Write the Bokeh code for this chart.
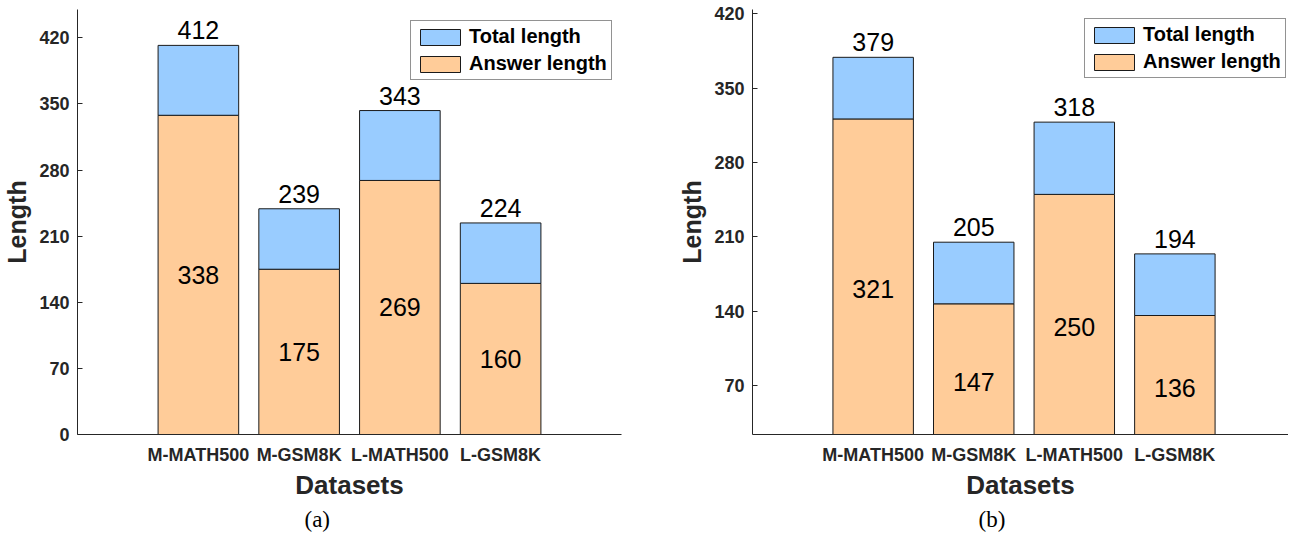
from bokeh.plotting import figure
from bokeh.layouts import row
from bokeh.models import ColumnDataSource, FixedTicker, Legend, LegendItem, Range1d, Title
from bokeh.core.properties import value
from bokeh.embed import file_html
from bokeh.resources import INLINE

# ---------------- data ----------------
datasets = ["M-MATH500", "M-GSM8K", "L-MATH500", "L-GSM8K"]
total_a = [412, 239, 343, 224]
answer_a = [338, 175, 269, 160]
total_b = [379, 205, 318, 194]
answer_b = [321, 147, 250, 136]
yticks_a = [0, 70, 140, 210, 280, 350, 420]
yticks_b = [70, 140, 210, 280, 350, 420]
series_names = ["Total length", "Answer length"]
captions = ["(a)", "(b)"]

# ---------------- style ----------------
BLUE = "#99CCFF"
ORANGE = "#FFCC99"
EDGE = "#1a1a1a"
AXIS = "#262626"
SANS = "Liberation Sans"
SERIF = "Liberation Serif"
FIG_H = 533
TOP = 9
FRAME_H = 426


def make_panel(total, answer, yticks, yrange, caption, width, min_left,
               min_right, x_end, legend_loc, caption_offset):
    pos = list(range(1, len(datasets) + 1))
    src = ColumnDataSource(dict(
        x=pos,
        total=total,
        answer=answer,
        zero=[0] * len(pos),
        half=[a / 2 for a in answer],
        total_lbl=[str(t) for t in total],
        ans_lbl=[str(a) for a in answer],
    ))
    p = figure(width=width, height=FIG_H,
               x_range=Range1d(-0.2, x_end), y_range=Range1d(*yrange),
               output_backend="svg", toolbar_location=None,
               min_border_left=min_left, min_border_right=min_right,
               min_border_top=TOP, min_border_bottom=FIG_H - TOP - FRAME_H)
    p.outline_line_color = None
    p.grid.visible = False
    p.background_fill_color = "white"

    r_ans = p.vbar(x="x", bottom="zero", top="answer", width=0.8, source=src,
                   fill_color=ORANGE, line_color=EDGE, line_width=1)
    r_tot = p.vbar(x="x", bottom="answer", top="total", width=0.8, source=src,
                   fill_color=BLUE, line_color=EDGE, line_width=1)

    p.text(x="x", y="total", text="total_lbl", source=src,
           text_align="center", text_baseline="bottom", y_offset=-6,
           text_font=value(SANS), text_font_size="25px", text_color="black")
    p.text(x="x", y="half", text="ans_lbl", source=src,
           text_align="center", text_baseline="middle",
           text_font=value(SANS), text_font_size="25px", text_color="black")

    xa = p.xaxis[0]
    xa.ticker = FixedTicker(ticks=pos)
    xa.major_label_overrides = {i: name for i, name in zip(pos, datasets)}
    xa.major_tick_in = 0
    xa.major_tick_out = 0
    xa.minor_tick_line_color = None
    xa.axis_line_color = AXIS
    xa.major_label_standoff = 10
    xa.major_label_text_font = SANS
    xa.major_label_text_font_size = "18px"
    xa.major_label_text_font_style = "bold"
    xa.major_label_text_color = AXIS
    xa.axis_label = "Datasets"
    xa.axis_label_standoff = 2
    xa.axis_label_text_font = SANS
    xa.axis_label_text_font_size = "26px"
    xa.axis_label_text_font_style = "bold"
    xa.axis_label_text_color = AXIS

    ya = p.yaxis[0]
    ya.ticker = FixedTicker(ticks=yticks)
    ya.major_tick_in = 5
    ya.major_tick_out = 0
    ya.major_tick_line_color = AXIS
    ya.minor_tick_line_color = None
    ya.axis_line_color = AXIS
    ya.major_label_standoff = 8
    ya.major_label_text_font = SANS
    ya.major_label_text_font_size = "18px"
    ya.major_label_text_font_style = "bold"
    ya.major_label_text_color = AXIS
    ya.axis_label = "Length"
    ya.axis_label_standoff = 5
    ya.axis_label_text_font = SANS
    ya.axis_label_text_font_size = "25px"
    ya.axis_label_text_font_style = "bold"
    ya.axis_label_text_color = AXIS

    legend = Legend(
        items=[LegendItem(label=series_names[0], renderers=[r_tot]),
               LegendItem(label=series_names[1], renderers=[r_ans])],
        location=legend_loc,
        label_text_font=SANS, label_text_font_size="20px",
        label_text_font_style="bold", label_text_color="black",
        glyph_width=50, glyph_height=20, label_height=20,
        label_standoff=4, padding=4, spacing=4, margin=0,
        border_line_color=AXIS, border_line_width=1,
        background_fill_color="white", background_fill_alpha=1.0,
    )
    p.add_layout(legend)

    p.add_layout(Title(text=caption, align="left", offset=caption_offset,
                       text_font=SERIF, text_font_size="23px",
                       text_font_style="normal", text_color="black",
                       standoff=4), "below")
    return p


p1 = make_panel(total_a, answer_a, yticks_a, (0, 450), captions[0],
                width=675, min_left=71, min_right=54, x_end=5.2,
                legend_loc=(333, 354), caption_offset=227)
p2 = make_panel(total_b, answer_b, yticks_b, (24, 424), captions[1],
                width=613, min_left=71, min_right=0, x_end=5.13,
                legend_loc=(332, 356), caption_offset=226)

layout = row(p1, p2)
open("out.html", "w").write(file_html(layout, INLINE))
